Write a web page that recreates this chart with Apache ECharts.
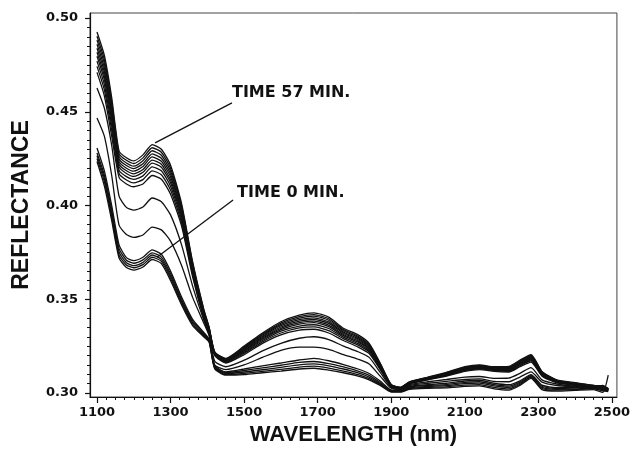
<!DOCTYPE html>
<html>
<head>
<meta charset="utf-8">
<script src="https://cdn.jsdelivr.net/npm/echarts@6/dist/echarts.min.js"></script>
<style>
  html, body { margin: 0; padding: 0; background: #fff; }
  #chart { width: 633px; height: 451px; }
</style>
</head>
<body>
<div id="chart"></div>
<script>
// Wavelength sampling (nm) shared by every spectrum
const wavelengths = [1100,1120,1140,1160,1180,1200,1225,1250,1275,1300,1330,1360,1390,1405,1420,1450,1500,1550,1600,1650,1690,1730,1770,1810,1840,1870,1900,1925,1950,2000,2050,2100,2140,2180,2220,2250,2280,2310,2350,2400,2450,2475,2490];

// Reflectance spectra recorded during drying, first scan (0 min) to last scan (57 min)
const scan01 = [0.4235,0.4105,0.3920,0.3720,0.3670,0.3655,0.3672,0.3712,0.3690,0.3600,0.3470,0.3360,0.3300,0.3270,0.3130,0.3095,0.3098,0.3108,0.3117,0.3128,0.3132,0.3122,0.3108,0.3090,0.3070,0.3040,0.3005,0.3005,0.3020,0.3025,0.3027,0.3035,0.3038,0.3022,0.3015,0.3040,0.3078,0.3018,0.3010,0.3014,0.3018,0.3003,0.3095];
const scan02 = [0.4250,0.4128,0.3938,0.3735,0.3683,0.3668,0.3685,0.3724,0.3702,0.3612,0.3480,0.3368,0.3306,0.3274,0.3134,0.3099,0.3104,0.3115,0.3126,0.3138,0.3143,0.3133,0.3117,0.3098,0.3077,0.3045,0.3008,0.3007,0.3024,0.3030,0.3033,0.3042,0.3045,0.3030,0.3022,0.3046,0.3083,0.3024,0.3015,0.3018,0.3022,0.3012,0.3008];
const scan03 = [0.4265,0.4145,0.3958,0.3752,0.3695,0.3679,0.3697,0.3736,0.3713,0.3624,0.3490,0.3376,0.3312,0.3278,0.3138,0.3104,0.3112,0.3124,0.3137,0.3150,0.3155,0.3145,0.3128,0.3107,0.3085,0.3050,0.3010,0.3009,0.3028,0.3035,0.3039,0.3050,0.3053,0.3038,0.3030,0.3052,0.3088,0.3030,0.3020,0.3022,0.3026,0.3018,0.3012];
const scan04 = [0.4280,0.4162,0.3978,0.3770,0.3708,0.3692,0.3710,0.3747,0.3725,0.3636,0.3500,0.3384,0.3318,0.3282,0.3142,0.3108,0.3120,0.3134,0.3148,0.3163,0.3168,0.3157,0.3139,0.3117,0.3094,0.3056,0.3013,0.3011,0.3032,0.3040,0.3045,0.3057,0.3060,0.3045,0.3037,0.3058,0.3093,0.3036,0.3024,0.3027,0.3030,0.3022,0.3016];
const scan05 = [0.4307,0.4185,0.4000,0.3790,0.3722,0.3706,0.3724,0.3763,0.3740,0.3650,0.3512,0.3393,0.3324,0.3286,0.3146,0.3113,0.3128,0.3145,0.3160,0.3176,0.3185,0.3172,0.3152,0.3128,0.3104,0.3064,0.3016,0.3014,0.3036,0.3045,0.3052,0.3064,0.3068,0.3052,0.3044,0.3065,0.3098,0.3042,0.3028,0.3030,0.3034,0.3026,0.3018];
const scan06 = [0.4467,0.4370,0.4160,0.3895,0.3845,0.3830,0.3843,0.3885,0.3870,0.3810,0.3680,0.3510,0.3375,0.3305,0.3150,0.3125,0.3150,0.3190,0.3228,0.3245,0.3245,0.3233,0.3205,0.3180,0.3155,0.3090,0.3025,0.3018,0.3040,0.3052,0.3062,0.3072,0.3075,0.3062,0.3060,0.3085,0.3113,0.3058,0.3040,0.3032,0.3025,0.3030,0.3014];
const scan07 = [0.4627,0.4520,0.4320,0.4050,0.3990,0.3975,0.3992,0.4040,0.4020,0.3950,0.3790,0.3570,0.3390,0.3310,0.3170,0.3140,0.3175,0.3225,0.3265,0.3292,0.3300,0.3285,0.3250,0.3220,0.3190,0.3110,0.3030,0.3022,0.3045,0.3060,0.3072,0.3085,0.3088,0.3078,0.3080,0.3105,0.3135,0.3070,0.3048,0.3035,0.3028,0.3020,0.3015];
const scan08 = [0.4710,0.4585,0.4370,0.4150,0.4115,0.4100,0.4115,0.4160,0.4140,0.4060,0.3890,0.3620,0.3400,0.3320,0.3200,0.3160,0.3205,0.3265,0.3310,0.3335,0.3340,0.3320,0.3280,0.3245,0.3210,0.3125,0.3035,0.3025,0.3050,0.3070,0.3090,0.3115,0.3125,0.3115,0.3112,0.3140,0.3165,0.3090,0.3055,0.3040,0.3025,0.3020,0.3015];
const scan09 = [0.4742,0.4617,0.4401,0.4171,0.4136,0.4121,0.4138,0.4185,0.4164,0.4083,0.3908,0.3632,0.3407,0.3324,0.3203,0.3164,0.3212,0.3273,0.3320,0.3347,0.3353,0.3333,0.3290,0.3255,0.3218,0.3130,0.3036,0.3026,0.3052,0.3072,0.3093,0.3119,0.3129,0.3119,0.3116,0.3145,0.3171,0.3094,0.3057,0.3042,0.3027,0.3022,0.3016];
const scan10 = [0.4770,0.4645,0.4427,0.4189,0.4154,0.4139,0.4158,0.4206,0.4185,0.4103,0.3924,0.3642,0.3414,0.3328,0.3206,0.3167,0.3218,0.3280,0.3330,0.3357,0.3364,0.3344,0.3298,0.3263,0.3225,0.3135,0.3038,0.3026,0.3053,0.3074,0.3096,0.3122,0.3132,0.3122,0.3120,0.3150,0.3176,0.3097,0.3059,0.3044,0.3029,0.3034,0.3018];
const scan11 = [0.4796,0.4671,0.4452,0.4206,0.4171,0.4155,0.4177,0.4226,0.4204,0.4122,0.3938,0.3652,0.3420,0.3332,0.3208,0.3170,0.3223,0.3287,0.3338,0.3367,0.3375,0.3354,0.3306,0.3271,0.3232,0.3139,0.3039,0.3027,0.3054,0.3076,0.3098,0.3125,0.3135,0.3125,0.3124,0.3154,0.3181,0.3100,0.3061,0.3046,0.3031,0.3026,0.3019];
const scan12 = [0.4817,0.4692,0.4472,0.4220,0.4185,0.4169,0.4192,0.4242,0.4220,0.4137,0.3950,0.3660,0.3425,0.3335,0.3210,0.3172,0.3227,0.3292,0.3345,0.3375,0.3383,0.3362,0.3312,0.3277,0.3237,0.3142,0.3040,0.3028,0.3055,0.3078,0.3100,0.3128,0.3138,0.3128,0.3127,0.3158,0.3185,0.3103,0.3063,0.3048,0.3033,0.3027,0.3020];
const scan13 = [0.4839,0.4714,0.4493,0.4234,0.4199,0.4183,0.4208,0.4259,0.4236,0.4153,0.3962,0.3668,0.3430,0.3338,0.3212,0.3175,0.3232,0.3298,0.3352,0.3383,0.3392,0.3371,0.3319,0.3284,0.3243,0.3146,0.3041,0.3028,0.3056,0.3079,0.3102,0.3130,0.3140,0.3130,0.3130,0.3161,0.3189,0.3105,0.3064,0.3049,0.3034,0.3040,0.3021];
const scan14 = [0.4860,0.4735,0.4513,0.4248,0.4213,0.4197,0.4223,0.4275,0.4252,0.4168,0.3974,0.3676,0.3435,0.3341,0.3214,0.3177,0.3236,0.3303,0.3359,0.3391,0.3401,0.3379,0.3325,0.3290,0.3248,0.3149,0.3042,0.3029,0.3057,0.3081,0.3104,0.3133,0.3143,0.3133,0.3133,0.3165,0.3193,0.3108,0.3066,0.3051,0.3036,0.3028,0.3022];
const scan15 = [0.4882,0.4757,0.4534,0.4262,0.4227,0.4210,0.4239,0.4292,0.4268,0.4184,0.3986,0.3684,0.3440,0.3344,0.3216,0.3180,0.3241,0.3309,0.3366,0.3399,0.3410,0.3388,0.3332,0.3297,0.3254,0.3153,0.3043,0.3029,0.3058,0.3082,0.3106,0.3135,0.3145,0.3135,0.3136,0.3168,0.3197,0.3110,0.3067,0.3052,0.3037,0.3038,0.3023];
const scan16 = [0.4903,0.4778,0.4554,0.4276,0.4241,0.4224,0.4254,0.4308,0.4284,0.4199,0.3998,0.3692,0.3445,0.3347,0.3218,0.3182,0.3245,0.3314,0.3373,0.3407,0.3418,0.3396,0.3338,0.3303,0.3259,0.3156,0.3044,0.3030,0.3059,0.3083,0.3108,0.3137,0.3147,0.3137,0.3139,0.3171,0.3201,0.3112,0.3068,0.3053,0.3041,0.3033,0.3024];
const scan17 = [0.4925,0.4800,0.4575,0.4290,0.4255,0.4238,0.4270,0.4325,0.4300,0.4215,0.4010,0.3700,0.3450,0.3350,0.3220,0.3185,0.3250,0.3320,0.3380,0.3415,0.3427,0.3405,0.3345,0.3310,0.3265,0.3160,0.3045,0.3030,0.3060,0.3085,0.3110,0.3140,0.3150,0.3140,0.3142,0.3175,0.3205,0.3115,0.3070,0.3055,0.3040,0.3035,0.3025];

const spectra = [scan01,scan02,scan03,scan04,scan05,scan06,scan07,scan08,scan09,scan10,scan11,scan12,scan13,scan14,scan15,scan16,scan17];

// Axis ticks and labels
const xTickLabels = [1100,1300,1500,1700,1900,2100,2300,2500];
const xMinorTicks = [1100,1125,1150,1175,1200,1225,1250,1275,1300,1325,1350,1375,1400,1425,1450,1475,1500,1525,1550,1575,1600,1625,1650,1675,1700,1725,1750,1775,1800,1825,1850,1875,1900,1925,1950,1975,2000,2025,2050,2075,2100,2125,2150,2175,2200,2225,2250,2275,2300,2325,2350,2375,2400,2425,2450,2475,2500];
const yTickLabels = [0.30,0.35,0.40,0.45,0.50];
const yMinorTicks = [0.300,0.305,0.310,0.315,0.320,0.325,0.330,0.335,0.340,0.345,0.350,0.355,0.360,0.365,0.370,0.375,0.380,0.385,0.390,0.395,0.400,0.405,0.410,0.415,0.420,0.425,0.430,0.435,0.440,0.445,0.450,0.455,0.460,0.465,0.470,0.475,0.480,0.485,0.490,0.495,0.500];

// Annotation text and where each leader line points
const noteLast = { text: 'TIME 57 MIN.', at: [1258, 0.4334], textAt: [1467, 0.4600], lineEnd: [1467, 0.4547] };
const noteFirst = { text: 'TIME 0 MIN.', at: [1263, 0.3724], textAt: [1481, 0.4068], lineEnd: [1470, 0.4029] };

const X_MIN = 1081, X_MAX = 2513.6;
const Y_MIN = 0.29787, Y_MAX = 0.50267;

const tickFont = { fontFamily: 'DejaVu Sans', fontWeight: 'bold', fontSize: 13, color: '#111' };
const titleFont = { fontFamily: 'Liberation Sans, Arial, sans-serif', fontWeight: 'bold', fontSize: 22, color: '#111' };

const series = spectra.map((vals, i) => ({
  type: 'line',
  name: 'scan' + (i + 1),
  data: wavelengths.map((w, k) => [w, vals[k]]),
  showSymbol: false,
  smooth: 0.2,
  silent: true,
  lineStyle: { color: '#111', width: 1.3 },
  z: 3
}));

function leader(note) {
  return {
    silent: true,
    symbol: ['none', 'none'],
    label: { show: false },
    lineStyle: { color: '#111', width: 1.3, type: 'solid' },
    data: [[{ coord: note.at }, { coord: note.lineEnd }]]
  };
}
series[series.length - 1].markLine = leader(noteLast);
series[0].markLine = leader(noteFirst);

const option = {
  animation: false,
  backgroundColor: '#fff',
  grid: { left: 90, right: 16, top: 13, bottom: 54, show: true, borderColor: '#444', borderWidth: 1, backgroundColor: 'transparent' },
  xAxis: [{
    type: 'value', min: X_MIN, max: X_MAX,
    name: 'WAVELENGTH (nm)', nameLocation: 'middle', nameGap: 23,
    nameTextStyle: titleFont,
    axisLine: { show: true, lineStyle: { color: '#111', width: 1.2 } },
    axisTick: { show: true, customValues: xTickLabels, length: 6, lineStyle: { color: '#111', width: 1.2 } },
    axisLabel: { customValues: xTickLabels, margin: 9, ...tickFont, formatter: v => String(Math.round(v)) },
    splitLine: { show: false }
  }, {
    type: 'value', min: X_MIN, max: X_MAX, position: 'bottom',
    axisLine: { show: false },
    axisTick: { show: true, customValues: xMinorTicks, length: 3, lineStyle: { color: '#111', width: 1 } },
    axisLabel: { show: false },
    splitLine: { show: false }
  }],
  yAxis: [{
    type: 'value', min: Y_MIN, max: Y_MAX,
    name: 'REFLECTANCE', nameLocation: 'middle', nameGap: 57, nameRotate: 90,
    nameTextStyle: Object.assign({}, titleFont, { fontSize: 23 }),
    axisLine: { show: true, lineStyle: { color: '#111', width: 1.2 } },
    axisTick: { show: true, customValues: yTickLabels, length: 5, lineStyle: { color: '#111', width: 1.2 } },
    axisLabel: { customValues: yTickLabels, margin: 12, ...tickFont, formatter: v => v.toFixed(2) },
    splitLine: { show: false }
  }, {
    type: 'value', min: Y_MIN, max: Y_MAX, position: 'left',
    axisLine: { show: false },
    axisTick: { show: true, customValues: yMinorTicks, length: 3, lineStyle: { color: '#111', width: 1 } },
    axisLabel: { show: false },
    splitLine: { show: false }
  }],
  series: series
};

const chart = echarts.init(document.getElementById('chart'), null, { renderer: 'canvas' });
chart.setOption(option);

// Place the annotation texts in data coordinates
const noteFont = 'bold 16px "DejaVu Sans"';
const graphics = [noteLast, noteFirst].map(note => {
  const p = chart.convertToPixel({ gridIndex: 0 }, note.textAt);
  return {
    type: 'text', x: p[0], y: p[1], silent: true, z: 10,
    style: { text: note.text, font: noteFont, fill: '#111', textVerticalAlign: 'middle', textAlign: 'left' }
  };
});
chart.setOption({ graphic: graphics });
</script>
</body>
</html>
